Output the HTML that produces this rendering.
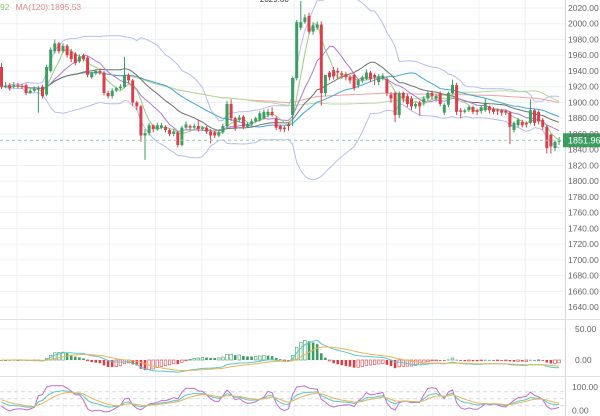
<!DOCTYPE html>
<html><head><meta charset="utf-8"><style>
html,body{margin:0;padding:0;background:#fff;}
#wrap{position:relative;width:600px;height:416px;overflow:hidden;font-family:"Liberation Sans",sans-serif;}
svg{position:absolute;left:0;top:0;}
</style></head><body>
<div id="wrap">
<svg id="chart" width="600" height="416"></svg>
</div>
<script>
const opens=[1945,1921,1922,1920,1922,1921,1922,1912,1915,1917,1920,1910,1940,1965,1975,1965,1972,1965,1962,1952,1960,1957,1932,1937,1940,1938,1912,1908,1915,1918,1920,1935,1928,1900,1895,1858,1861,1871,1866,1868,1869,1865,1860,1862,1846,1868,1870,1868,1870,1866,1868,1863,1862,1858,1862,1870,1898,1880,1878,1882,1869,1872,1876,1878,1880,1884,1888,1880,1870,1868,1872,1884,1931,1995,2002,2010,1990,1995,1999,1912,1938,1941,1940,1937,1936,1932,1935,1922,1928,1930,1938,1935,1926,1930,1930,1910,1912,1884,1912,1908,1905,1895,1900,1900,1905,1912,1905,1912,1887,1897,1912,1922,1890,1888,1890,1894,1890,1889,1890,1895,1892,1890,1890,1889,1887,1865,1871,1875,1874,1874,1890,1888,1878,1869,1859,1842,1850];
const closes=[1920,1921,1918,1922,1921,1920,1912,1915,1917,1918,1908,1945,1967,1975,1965,1972,1960,1955,1950,1958,1955,1935,1937,1940,1938,1912,1908,1915,1918,1920,1935,1928,1900,1895,1858,1861,1871,1866,1871,1871,1865,1860,1863,1846,1868,1872,1868,1870,1866,1868,1863,1858,1858,1862,1870,1898,1880,1868,1881,1869,1872,1876,1880,1886,1888,1888,1884,1868,1866,1866,1870,1931,2002,2002,2008,1990,1998,1999,1912,1935,1932,1933,1938,1935,1932,1928,1918,1928,1932,1938,1930,1932,1933,1934,1912,1905,1884,1912,1905,1898,1895,1898,1895,1905,1912,1908,1908,1898,1897,1912,1922,1888,1888,1890,1894,1888,1888,1894,1899,1890,1888,1889,1887,1887,1869,1874,1878,1871,1872,1890,1874,1876,1869,1842,1844,1850,1852];
const highs=[1950,1926,1925,1926,1925,1924,1924,1918,1920,1921,1922,1948,1970,1980,1977,1975,1974,1968,1964,1961,1962,1959,1939,1942,1943,1940,1915,1918,1920,1923,1958,1937,1930,1902,1897,1866,1874,1872,1874,1874,1871,1867,1866,1864,1870,1876,1872,1873,1877,1870,1870,1866,1864,1865,1873,1902,1904,1882,1884,1884,1875,1879,1882,1889,1891,1892,1894,1882,1872,1870,1874,1933,2005,2029,2012,2014,2002,2003,2003,1917,1940,1945,1944,1940,1939,1935,1937,1930,1934,1942,1940,1937,1936,1937,1932,1913,1914,1914,1914,1911,1908,1900,1902,1908,1915,1915,1911,1914,1899,1914,1929,1925,1893,1892,1896,1896,1892,1896,1906,1896,1894,1892,1892,1891,1889,1876,1880,1878,1876,1904,1892,1890,1880,1871,1860,1852,1856];
const lows=[1917,1918,1915,1918,1918,1917,1909,1911,1913,1887,1905,1908,1938,1962,1962,1963,1957,1951,1947,1950,1952,1932,1930,1935,1935,1909,1905,1905,1913,1916,1918,1924,1896,1890,1850,1827,1858,1862,1864,1866,1862,1857,1857,1843,1844,1866,1865,1866,1863,1864,1860,1848,1855,1856,1860,1868,1876,1864,1875,1866,1868,1870,1874,1876,1878,1881,1882,1865,1863,1862,1864,1870,1928,1992,2000,1987,1986,1992,1896,1908,1928,1929,1930,1930,1928,1924,1915,1918,1925,1928,1926,1922,1922,1928,1908,1900,1875,1880,1900,1894,1890,1892,1883,1896,1902,1904,1901,1895,1884,1894,1910,1884,1880,1886,1888,1885,1884,1886,1888,1886,1885,1884,1883,1884,1847,1862,1868,1868,1868,1872,1870,1872,1865,1835,1835,1838,1846];
const priceTicks=[2020,2000,1980,1960,1940,1920,1900,1880,1860,1840,1820,1800,1780,1760,1740,1720,1700,1680,1660,1640];
const lastPrice=1851.96;

const NS='http://www.w3.org/2000/svg';
const svg=document.getElementById('chart');
function mk(tag,attrs,parent){const e=document.createElementNS(NS,tag);for(const k in attrs)e.setAttribute(k,attrs[k]);(parent||svg).appendChild(e);return e;}
const PW=565;
const xOf=i=>1.5+i*4.1;
const yP=p=>8+(2020-p)*0.787;
const yM=v=>360-v*0.62;
const yK=v=>410.5-v*0.235;
const GREEN='#3d9d62',RED='#d8414c';

const grid=mk('g',{});


for(let gx=17;gx<PW;gx+=46.2){mk('line',{x1:gx,x2:gx,y1:0,y2:416,stroke:'#eef1f4','stroke-width':1},grid);}
priceTicks.forEach(p=>{mk('line',{x1:0,x2:PW,y1:yP(p),y2:yP(p),stroke:'#eef1f4','stroke-width':1},grid);});
[50,0].forEach(v=>mk('line',{x1:0,x2:PW,y1:yM(v),y2:yM(v),stroke:'#eef1f4'},grid));
[80,50,20].forEach(v=>mk('line',{x1:0,x2:PW,y1:yK(v),y2:yK(v),stroke:'#d9d9d9','stroke-dasharray':'4,3'},grid));
mk('line',{x1:0,x2:600,y1:319.5,y2:319.5,stroke:'#dfe2e6'});
mk('line',{x1:0,x2:600,y1:376.5,y2:376.5,stroke:'#dfe2e6'});
mk('line',{x1:PW+0.5,x2:PW+0.5,y1:0,y2:416,stroke:'#d5d8dc'});

const n=closes.length;
function sma(arr,p){return arr.map((_,i)=>{const s=Math.max(0,i-p+1);let t=0;for(let j=s;j<=i;j++)t+=arr[j];return t/(i-s+1);});}
function ema(arr,p){const k=2/(p+1);let r=[];arr.forEach((v,i)=>r.push(i?v*k+r[i-1]*(1-k):v));return r;}
function line(vals,yf,color,name,w){const d=vals.map((v,i)=>(i?'L':'M')+xOf(i).toFixed(1)+','+yf(v).toFixed(1)).join('');const el=mk('path',{d:d,fill:'none',stroke:color,'stroke-width':w||1});return el;}
const mid=sma(closes,20);
const up=[],lo=[];
closes.forEach((_,i)=>{const s=Math.max(0,i-19);let t=0;for(let j=s;j<=i;j++)t+=(closes[j]-mid[i])**2;const sd=Math.sqrt(t/(i-s+1));up.push(mid[i]+2*sd);lo.push(mid[i]-2*sd);});
line(up,yP,'#b9bdf0','boll-upper');
line(lo,yP,'#b9bdf0','boll-lower');
line(sma(closes,120),yP,'#f0a0a0','ma120-line');
line(sma(closes,60),yP,'#b5dc98','ma60-line');
line(sma(closes,30),yP,'#3fa9d6','ma30-line');
line(mid,yP,'#707070','ma20-line');
line(sma(closes,10),yP,'#b07ad8','ma10-line');
line(sma(closes,5),yP,'#96d07a','ma5-line');

closes.forEach((c,i)=>{
  const o=opens[i],up=c>=o,col=up?GREEN:RED,x=xOf(i);
  const g=mk('g',{});
  
  
  mk('line',{x1:x,x2:x,y1:yP(highs[i]),y2:yP(lows[i]),stroke:col,'stroke-width':1},g);
  const t=yP(Math.max(o,c)),b=yP(Math.min(o,c));
  mk('rect',{x:x-1.5,y:t,width:3,height:Math.max(1,b-t),fill:col},g);
});

const ly=yP(lastPrice);
mk('line',{x1:0,x2:PW,y1:ly,y2:ly,stroke:'#8fd0a8','stroke-dasharray':'3,3'});
const pl=mk('rect',{x:563,y:ly-7,width:37,height:14,fill:'#3a9e5f'});


const plt=mk('text',{x:568,y:ly+3.5,fill:'#fff','font-size':9});plt.textContent=lastPrice.toFixed(2);



priceTicks.forEach(p=>{const t=mk('text',{x:568,y:yP(p)+3,fill:'#666','font-size':8.5});t.textContent=p.toFixed(2);

});

let hi=0;highs.forEach((h,i)=>{if(h>highs[hi])hi=i;});
const hx=xOf(hi);
mk('line',{x1:hx-10,x2:hx-2,y1:yP(highs[hi])-2,y2:yP(highs[hi])-2,stroke:'#333'});
const ht=mk('text',{x:hx-12,y:yP(highs[hi])+1,'text-anchor':'end',fill:'#333','font-size':8});ht.textContent=highs[hi].toFixed(2);



const lg=mk('text',{x:0,y:10,'font-size':8.5});


const s1=mk('tspan',{fill:'#8cc870'},lg);s1.textContent='92';
const s2=mk('tspan',{fill:'#e88a8a',dx:6},lg);s2.textContent='MA(120):1895.53';

const e26=ema(closes,26);
const dif=ema(closes,12).map((v,i)=>v-e26[i]);
const dea=ema(dif,9);
const hist=dif.map((v,i)=>2*(v-dea[i]));
hist.forEach((h,i)=>{
  const prev=i?hist[i-1]:0,x=xOf(i);
  const col=h>=0?GREEN:RED;
  const hollow=Math.abs(h)>Math.abs(prev)?(h>=0):(h<0);
  const t=Math.min(yM(h),yM(0)),hh=Math.max(0.8,Math.abs(yM(h)-yM(0)));
  const r=mk('rect',{x:x-1.3,y:t,width:2.6,height:hh,fill:hollow?'#fff':col,stroke:col,'stroke-width':hollow?0.6:0});
  
  
});
line(dif,yM,'#5cc8c8','macd-dif-line');
line(dea,yM,'#e8b45a','macd-dea-line');
[[50,'50.00'],[0,'0.00']].forEach(([v,s])=>{const t=mk('text',{x:575,y:yM(v)+3,fill:'#666','font-size':8.5});t.textContent=s;

});

const K=[],D=[],J=[];
closes.forEach((c,i)=>{const s=Math.max(0,i-8);let h=-1e9,l=1e9;for(let j=s;j<=i;j++){h=Math.max(h,highs[j]);l=Math.min(l,lows[j]);}
const rsv=h>l?(c-l)/(h-l)*100:50;const k=(i?K[i-1]:50)*2/3+rsv/3;const d=(i?D[i-1]:50)*2/3+k/3;K.push(k);D.push(d);J.push(Math.max(-5,Math.min(105,3*k-2*d)));});
line(J,yK,'#c36ad8','kdj-j-line');
line(K,yK,'#5cc8c8','kdj-k-line');
line(D,yK,'#e8b45a','kdj-d-line');
[[100,'100.00'],[0,'0.00']].forEach(([v,s])=>{const t=mk('text',{x:572,y:yK(v)+3,fill:'#666','font-size':8.5});t.textContent=s;

});
</script>
</body></html>
